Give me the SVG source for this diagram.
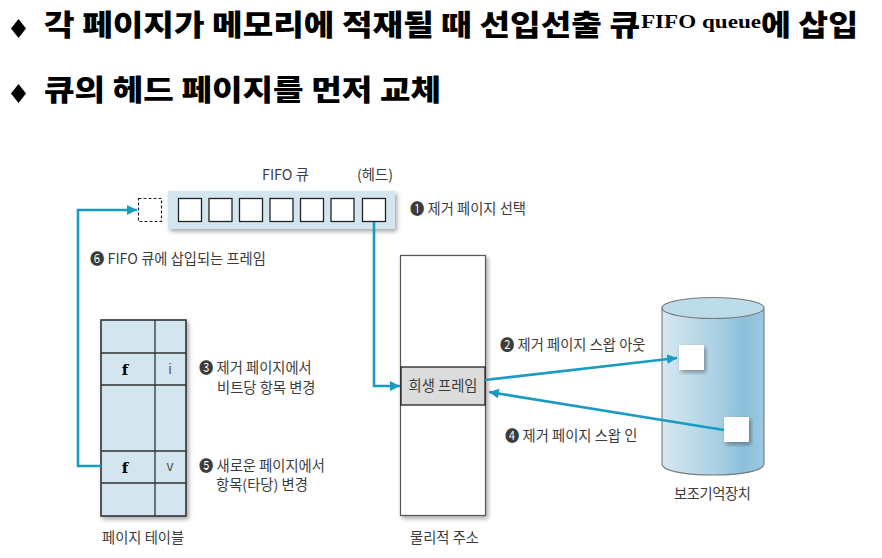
<svg xmlns="http://www.w3.org/2000/svg" width="882" height="558" viewBox="0 0 882 558">
<defs>
<marker id="ah" markerUnits="userSpaceOnUse" markerWidth="12" markerHeight="12" refX="10" refY="6" orient="auto"><path d="M0,1 L10,6 L0,11 Z" fill="#1a9cc0"/></marker>
<linearGradient id="cyl" x1="0" x2="1" y1="0" y2="0"><stop offset="0" stop-color="#d6e8f2"/><stop offset="0.55" stop-color="#a9cfe3"/><stop offset="0.8" stop-color="#8bbfdb"/><stop offset="1" stop-color="#9cc9e0"/></linearGradient>
<filter id="sh" x="-10%" y="-10%" width="125%" height="130%"><feDropShadow dx="2" dy="2.500" stdDeviation="2" flood-color="#000" flood-opacity="0.35"/></filter>
</defs>
<style>
.h{font-family:"Noto Sans CJK KR","Noto Sans",sans-serif;font-weight:900;font-size:29px;fill:#000}
.s{font-family:"Liberation Serif",serif;font-weight:700;font-size:18px;fill:#000}
.t{font-family:"Noto Sans CJK KR","Noto Sans",sans-serif;font-size:14.3px;fill:#3c3c3c}
.b{fill:#fff;stroke:#222;stroke-width:1.3}
.c{fill:none;stroke:#1a9cc0;stroke-width:2.6}
.g{stroke:#333;stroke-width:1.3;fill:none}
.f{font-family:"DejaVu Serif",serif;font-weight:700;font-size:15px;fill:#000;text-anchor:middle}
.l{font-family:"Liberation Sans",sans-serif;font-size:14px;fill:#555;text-anchor:middle}
</style>
<g id="title">
<path d="M11,28.500 L18.500,19 L26,28.500 L18.500,38 Z" fill="#000"/>
<text class="h" x="44" y="36" textLength="596" lengthAdjust="spacingAndGlyphs">각 페이지가 메모리에 적재될 때 선입선출 큐</text>
<text class="s" x="641" y="28" textLength="120" lengthAdjust="spacingAndGlyphs">FIFO queue</text>
<text class="h" x="761" y="36" textLength="97" lengthAdjust="spacingAndGlyphs">에 삽입</text>
<path d="M11,93.500 L18.500,84 L26,93.500 L18.500,103 Z" fill="#000"/>
<text class="h" x="44" y="101" textLength="397" lengthAdjust="spacingAndGlyphs">큐의 헤드 페이지를 먼저 교체</text>
</g>
<g id="queue">
<rect x="168" y="191" width="227" height="38" fill="#d3e6f0" filter="url(#sh)"/>
<rect class="b" x="178.500" y="198.500" width="23" height="23"/>
<rect class="b" x="209" y="198.500" width="23" height="23"/>
<rect class="b" x="239.500" y="198.500" width="23" height="23"/>
<rect class="b" x="270" y="198.500" width="23" height="23"/>
<rect class="b" x="300.500" y="198.500" width="23" height="23"/>
<rect class="b" x="331" y="198.500" width="23" height="23"/>
<rect class="b" x="362.500" y="198.500" width="23" height="23"/>
<text class="t" x="262" y="180">FIFO 큐</text>
<text class="t" x="357" y="180">(헤드)</text>
</g>
<g id="new-slot"><rect x="138.500" y="198.500" width="23" height="23" fill="none" stroke="#222" stroke-width="1.2" stroke-dasharray="3 2"/></g>
<g id="page-table">
<rect x="101" y="320" width="85" height="196" fill="#d3e6f0" stroke="#333" stroke-width="1.6" filter="url(#sh)"/>
<path class="g" d="M155,320V516M101,353H186M101,385H186M101,451H186M101,483H186"/>
<text class="f" x="125" y="375">f</text><text class="l" x="170" y="374">i</text>
<text class="f" x="125" y="473">f</text><text class="l" x="170" y="471">v</text>
<text class="t" x="102" y="543">페이지 테이블</text>
</g>
<g id="physical">
<rect x="400.500" y="255.500" width="85" height="260" fill="#fff" stroke="#555" stroke-width="1.2" filter="url(#sh)"/>
<rect x="401" y="367" width="84" height="38" fill="#dcdcdc" stroke="#222" stroke-width="1.3"/>
<text class="t" x="443" y="391" text-anchor="middle">희생 프레임</text>
<text class="t" x="410" y="543">물리적 주소</text>
</g>
<g id="storage">
<path d="M662,308V464C662,471 685,475 713,475C741,475 764,471 764,464V308Z" fill="url(#cyl)" stroke="#777" stroke-width="1.1"/>
<ellipse cx="713" cy="308" rx="51" ry="10.500" fill="#bcdcea" stroke="#777" stroke-width="1.1"/>
<rect x="679" y="345" width="25" height="25" fill="#fff" filter="url(#sh)"/>
<rect x="724" y="417" width="25" height="25" fill="#fff" filter="url(#sh)"/>
<text class="t" x="674" y="499" textLength="77">보조기억장치</text>
</g>
<g id="connectors">
<path class="c" d="M374,222V386H400" marker-end="url(#ah)"/>
<path class="c" d="M101,466H78V210H137" marker-end="url(#ah)"/>
<path class="c" d="M485,380L677,358" marker-end="url(#ah)"/>
<path class="c" d="M724,430L489,392" marker-end="url(#ah)"/>
</g>
<g id="labels">
<text class="t" x="410" y="214">❶ 제거 페이지 선택</text>
<text class="t" x="90" y="264">❻ FIFO 큐에 삽입되는 프레임</text>
<text class="t" x="199" y="373">❸ 제거 페이지에서</text>
<text class="t" x="217" y="393">비트당 항목 변경</text>
<text class="t" x="199" y="471">❺ 새로운 페이지에서</text>
<text class="t" x="216" y="490">항목(타당) 변경</text>
<text class="t" x="500" y="350">❷ 제거 페이지 스왑 아웃</text>
<text class="t" x="505" y="441">❹ 제거 페이지 스왑 인</text>
</g>
</svg>
